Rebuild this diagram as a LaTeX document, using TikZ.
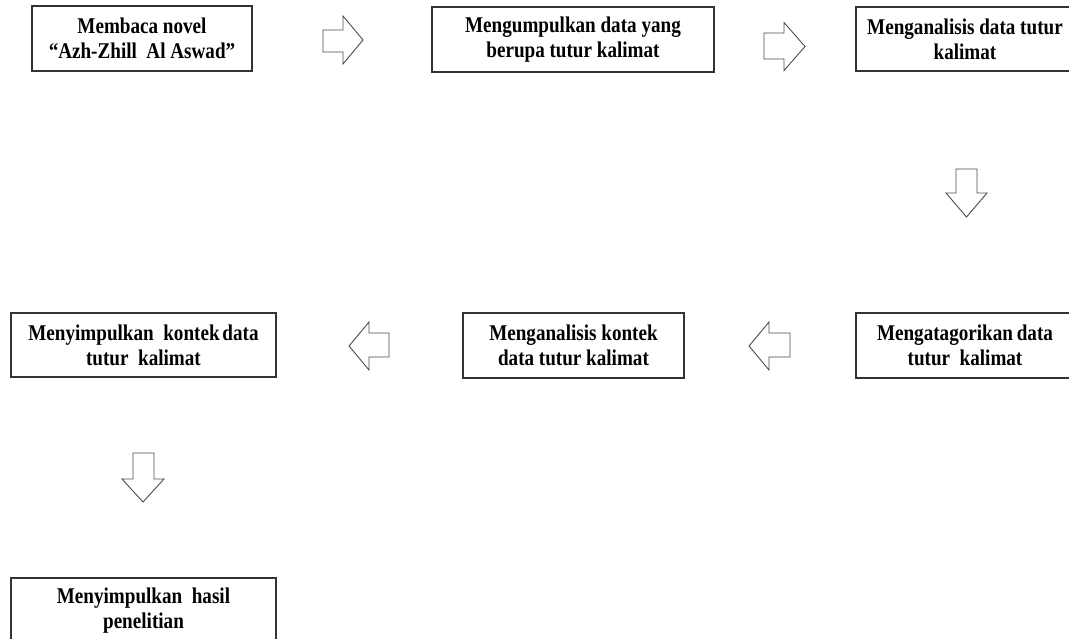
\documentclass[tikz,border=0pt]{standalone}
\usepackage{fontspec}
\setmainfont{Liberation Serif}[FakeStretch=0.85]
\begin{document}
\begin{tikzpicture}[x=1pt,y=-1pt,
  box/.style={draw=black!80, line width=1.2pt, inner sep=0pt, align=center,
    font=\fontsize{22.5}{25}\selectfont\bfseries},
  blockarrow/.style={draw=black!70, line width=0.9pt, line join=miter}]
\useasboundingbox (0,0) rectangle (1069,639);
% boxes
\node[box, minimum width=220pt, minimum height=65pt] (b1) at (142,38.5)
  {Membaca novel\\“Azh-Zhill~ Al Aswad”};
\node[box, minimum width=282pt, minimum height=65pt] (b2) at (573,39.5)
  {Mengumpulkan data yang\\berupa tutur kalimat};
\node[box, minimum width=218pt, minimum height=64pt] (b3) at (965,39)
  {Menganalisis data tutur\\kalimat};
\node[box, minimum width=218pt, minimum height=65pt] (b6) at (965,345.5)
  {Mengatagorikan\hspace{-1pt} data\\tutur~ kalimat};
\node[box, minimum width=221pt, minimum height=65pt] (b5) at (573.5,345.5)
  {Menganalisis kontek\\data tutur kalimat};
\node[box, minimum width=265pt, minimum height=64pt] (b4) at (143.5,345)
  {Menyimpulkan~ kontek\hspace{-2pt} data\\tutur~ kalimat};
\node[box, minimum width=265pt, minimum height=65pt] (b7) at (143.5,610.5)
  {Menyimpulkan~ hasil\\penelitian};
% block arrows
\draw[blockarrow] (323,30) -- (343,30) -- (343,16) -- (363,40) -- (343,64) -- (343,52) -- (323,52) -- cycle;
\draw[blockarrow] (764,33) -- (784,33) -- (784,22.5) -- (805,46.5) -- (784,70.5) -- (784,59) -- (764,59) -- cycle;
\draw[blockarrow] (956,169) -- (977,169) -- (977,193) -- (987,193) -- (966.5,217) -- (946,193) -- (956,193) -- cycle;
\draw[blockarrow] (790,333) -- (769,333) -- (769,322) -- (749,346) -- (769,370) -- (769,357) -- (790,357) -- cycle;
\draw[blockarrow] (389,333) -- (369,333) -- (369,322) -- (349,346) -- (369,370) -- (369,357) -- (389,357) -- cycle;
\draw[blockarrow] (133,453) -- (154,453) -- (154,479) -- (164,479) -- (143,502) -- (122,479) -- (133,479) -- cycle;
\end{tikzpicture}
\end{document}
